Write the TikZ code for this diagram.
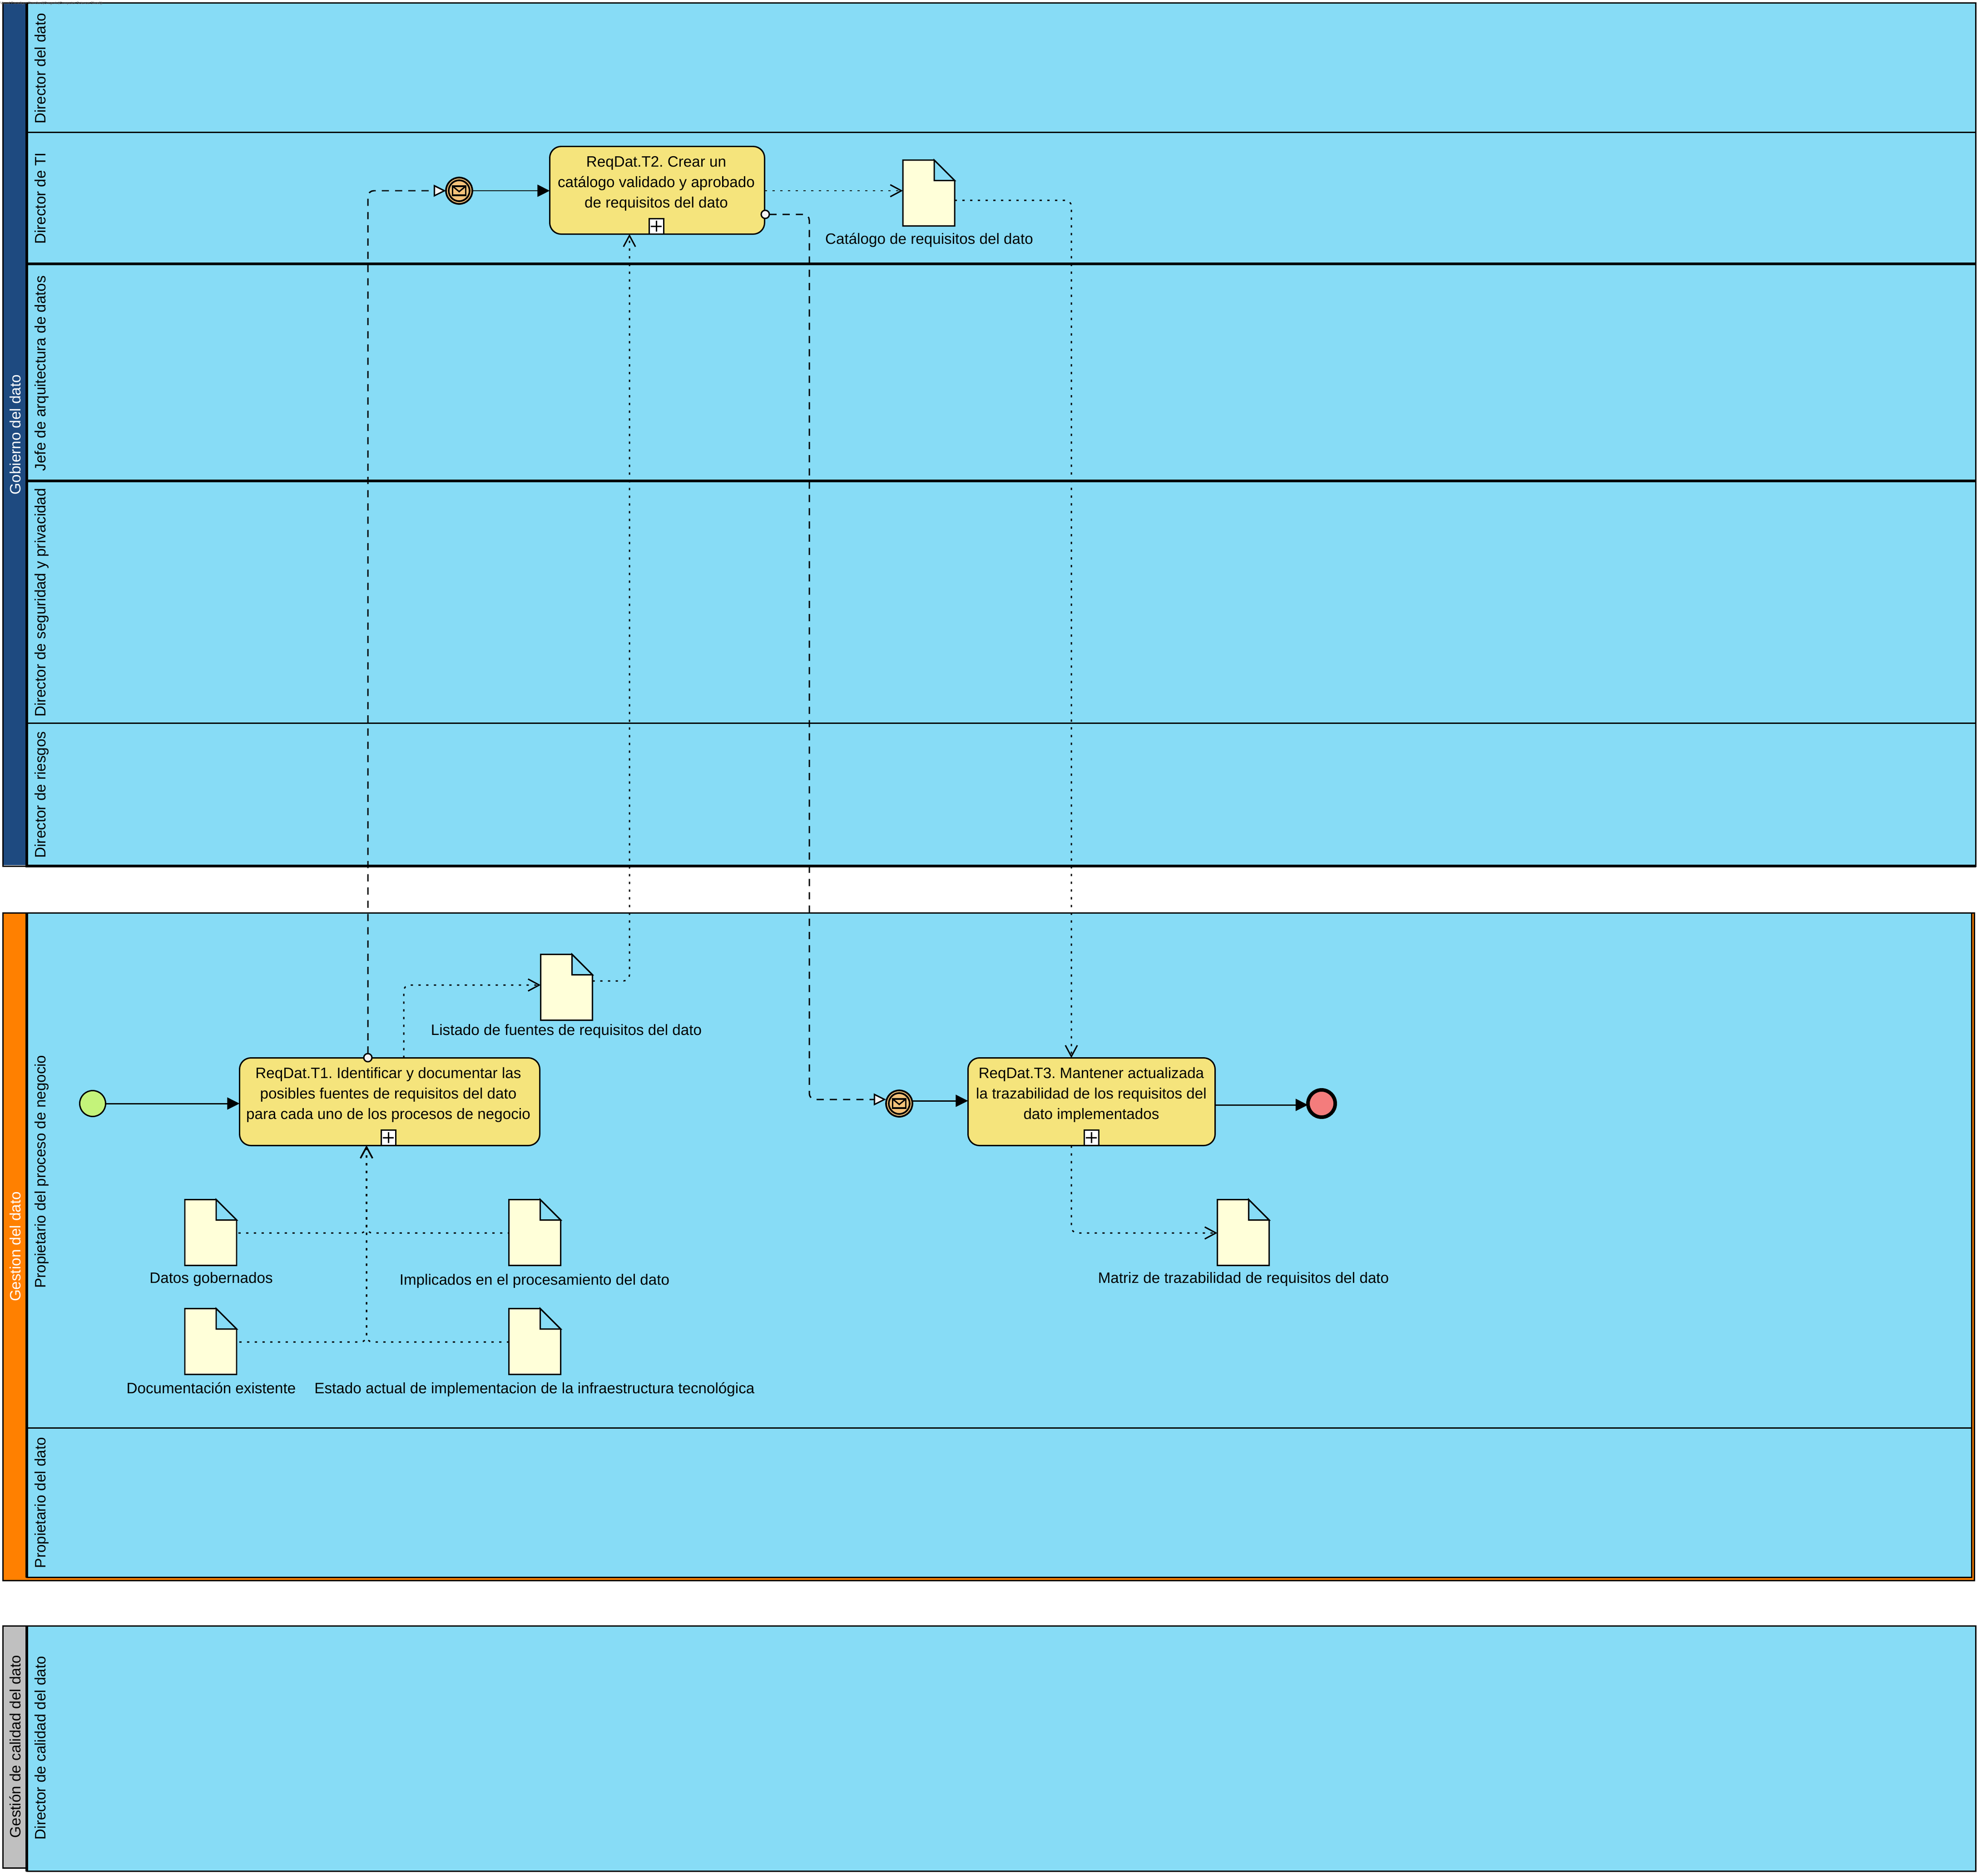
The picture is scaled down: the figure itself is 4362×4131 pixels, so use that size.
\documentclass[tikz,border=0pt]{standalone}
\usepackage{fontspec}
\setmainfont{Liberation Sans}
\usetikzlibrary{arrows.meta,calc,shapes.geometric}
\definecolor{lanec}{HTML}{87DCF6}
\definecolor{navyc}{HTML}{1E4A80}
\definecolor{orangec}{HTML}{FF8000}
\definecolor{greyc}{HTML}{C0C0C0}
\definecolor{taskc}{HTML}{F5E47C}
\definecolor{docc}{HTML}{FFFFD9}
\definecolor{evc}{HTML}{F5C27A}
\definecolor{startc}{HTML}{C4F37A}
\definecolor{endc}{HTML}{F47C7C}
\def\uu{0.02cm}
\frenchspacing
\tikzset{
  x=0.02cm,y=-0.02cm,
  thin3/.style={line width=1.7pt,draw=black},
  thick6/.style={line width=3.4pt,draw=black},
  txt/.style={font=\fontsize{18.9}{25.6}\selectfont\frenchspacing,inner sep=0pt,outer sep=0pt},
  vlabel/.style={txt,rotate=90,anchor=base},
  wlabel/.style={vlabel,text=white},
  dlabel/.style={txt,anchor=base},
  tasktext/.style={txt,align=center},
  taskbox/.style={draw=black,line width=1.7pt,fill=taskc,rounded corners=0.5cm,minimum height=193*\uu,inner sep=0pt,outer sep=0pt},
  markbox/.style={draw=black,line width=1.7pt,fill=white,minimum width=32*\uu,minimum height=34*\uu,inner sep=0pt,outer sep=0pt},
  docanchor/.style={minimum width=114*\uu,minimum height=145*\uu,inner sep=0pt,outer sep=0pt},
  docline/.style={line width=1.7pt,draw=black,fill=docc,line join=miter},
  evmsg/.style={circle,draw=black,line width=2.1pt,fill=evc,minimum size=58*\uu,inner sep=0pt,outer sep=0pt},
  evinner/.style={circle,draw=black,line width=2.1pt,fill=evc,minimum size=46*\uu,inner sep=0pt},
  evstart/.style={circle,draw=black,line width=1.7pt,fill=startc,minimum size=57*\uu,inner sep=0pt,outer sep=0pt},
  evend/.style={circle,draw=black,line width=4.5pt,fill=endc,minimum size=60*\uu,inner sep=0pt,outer sep=0pt},
  smallc/.style={circle,draw=black,line width=1.7pt,fill=white!96!black,minimum size=18*\uu,inner sep=0pt,outer sep=0pt},
  seqflow/.style={line width=1.7pt,-{Triangle[length=15.4pt,width=15pt]}},
  msgflow/.style={line width=1.7pt,dash pattern=on 9pt off 7.6pt,rounded corners=0.26cm,
    -{Triangle[length=15.5pt,width=15pt,line width=1.7pt,fill=white!96!black]}},
  dotflow/.style={line width=1.7pt,dash pattern=on 2.85pt off 6.83pt,rounded corners=0.26cm},
  assocout/.style={dotflow,-{Straight Barb[length=14pt,width=15pt,line width=1.7pt]}},
  assocrev/.style={dotflow,{Straight Barb[length=14pt,width=15pt,line width=1.7pt]}-},
}
\newcommand{\docnode}[3]{%
  \node[docanchor] (#1) at (#2,#3) {};
  \draw[docline] (#1.south west) -- (#1.north west) -- ($(#1.north east)+(-45,0)$) -- ($(#1.north east)+(0,45)$) -- (#1.south east) -- cycle;
  \fill[lanec] ($(#1.north east)+(-45,0)$) -- ($(#1.north east)+(0,45)$) -- ($(#1.north east)+(-45,45)$) -- cycle;
  \draw[line width=1.7pt,line join=miter] ($(#1.north east)+(-45,0)$) -- ($(#1.north east)+(-45,45)$) -- ($(#1.north east)+(0,45)$) -- cycle;
}
\newcommand{\markernode}[3]{%
  \node[markbox] (#1) at (#2,#3) {};
  \draw[line width=1.7pt] ($(#1.center)+(-12,0)$) -- ($(#1.center)+(12,0)$);
  \draw[line width=1.7pt] ($(#1.center)+(0,-12)$) -- ($(#1.center)+(0,12)$);
}
\newcommand{\eventnode}[3]{%
  \node[evmsg] (#1) at (#2,#3) {};
  \node[evinner] (#1i) at (#2,#3) {};
  \begin{scope}[shift={(#1.center)}]
    \draw[line width=2pt,line join=miter] (-14.5,-10) rectangle (14.5,10);
    \draw[line width=1.7pt] (-14.5,-10) -- (0,2) -- (14.5,-10);
  \end{scope}
}
\begin{document}
\begin{tikzpicture}
\useasboundingbox (0,0) rectangle (4362,4131);
\fill[white] (0,0) rectangle (4362,4131);

% Pool 1
\fill[lanec] (62,8) rectangle (4350,1905);
\fill[navyc] (8,8) rectangle (56,1905);
\draw[thin3] (6.5,6.5) rectangle (4350.5,1907);
\draw[thick6] (59,6.5) -- (59,1907);
\draw[thin3] (62,291.5) -- (4350,291.5);
\draw[thick6] (62,581) -- (4350,581);
\draw[thick6] (62,1059) -- (4350,1059);
\draw[thin3] (62,1592) -- (4350,1592);
\draw[thick6] (56,1907) -- (4351,1907);
\node[wlabel] (p1) at (45,957) {Gobierno del dato};
\node[vlabel] (l11) at (100,151) {Director del dato};
\node[vlabel] (l12) at (100,437) {Director de TI};
\node[vlabel] (l13) at (100,822) {Jefe de arquitectura de datos};
\node[vlabel] (l14) at (100,1327) {Director de seguridad y privacidad};
\node[vlabel] (l15) at (100,1750) {Director de riesgos};

% Pool 2
\draw[thin3,fill=orangec] (6.5,2010.5) rectangle (4347.5,3480);
\fill[lanec] (59,2012) rectangle (4341.5,3473);
\draw[thin3] (59,2010.5) rectangle (4341.5,3473);
\draw[thick6] (59,2010.5) -- (59,3474);
\draw[thin3] (62,3144) -- (4341,3144);
\node[wlabel] (p2) at (45,2745) {Gestion del dato};
\node[vlabel] (l21) at (100,2580) {Propietario del proceso de negocio};
\node[vlabel] (l22) at (100,3309) {Propietario del dato};

% Pool 3
\draw[thin3,fill=greyc] (6.5,3580) rectangle (59,4113);
\draw[thin3,fill=lanec] (59,3580) rectangle (4350.5,4120);
\draw[thick6] (59,3580) -- (59,4121);
\node[wlabel,text=black] (p3) at (45,3846) {Gestión de calidad del dato};
\node[vlabel] (l31) at (100,3849) {Director de calidad del dato};

% Documents
\docnode{d1}{1247.5}{2174}
\docnode{d2}{2045}{425}
\docnode{d3}{464}{2714}
\docnode{d4}{1177.5}{2714}
\docnode{d5}{464}{2954}
\docnode{d6}{1177.5}{2954}
\docnode{d7}{2737.5}{2714}
\node[dlabel] (dl1) at (1247,2279) {Listado de fuentes de requisitos del dato};
\node[dlabel] (dl2) at (2046,537) {Catálogo de requisitos del dato};
\node[dlabel] (dl3) at (465,2825) {Datos gobernados};
\node[dlabel] (dl4) at (1177,2829) {Implicados en el procesamiento del dato};
\node[dlabel] (dl5) at (465,3068) {Documentación existente};
\node[dlabel] (dl6) at (1177,3068) {Estado actual de implementacion de la infraestructura tecnológica};
\node[dlabel] (dl7) at (2738,2825) {Matriz de trazabilidad de requisitos del dato};

% Tasks
\node[taskbox,minimum width=661*\uu] (t1) at (858,2426) {};
\node[taskbox,minimum width=473*\uu] (t2) at (1447,419) {};
\node[taskbox,minimum width=544*\uu] (t3) at (2403.5,2426) {};
\node[tasktext] (t1x) at (855,2411) {ReqDat.T1. Identificar y documentar las\\posibles fuentes de requisitos del dato\\para cada uno de los procesos de negocio};
\node[tasktext] (t2x) at (1445,404) {ReqDat.T2. Crear un\\catálogo validado y aprobado\\de requisitos del dato};
\node[tasktext] (t3x) at (2403,2411) {ReqDat.T3. Mantener actualizada\\la trazabilidad de los requisitos del\\dato implementados};
\markernode{m1}{855}{2505}
\markernode{m2}{1445}{498}
\markernode{m3}{2403}{2505}

% Events
\node[evstart] (s1) at (204,2430) {};
\eventnode{e1}{1011}{420}
\eventnode{e2}{1980}{2430}
\node[evend] (x1) at (2910,2430) {};
\node[smallc] (c1) at (810,2329) {};
\node[smallc] (c2) at (1685,472) {};

% Sequence flows
\draw[seqflow] (s1.east) -- (t1.west |- s1.east);
\draw[seqflow] (e1.east) -- (t2.west |- e1.east);
\draw[seqflow] (e2.east |- 0,2424) -- (t3.west |- 0,2424);
\draw[seqflow] (t3.east |- 0,2433) -- (x1.west |- 0,2433);

% Message flows
\draw[msgflow] (c1.north) |- (e1.west);
\draw[msgflow] (c2.east) -| (1782,1000) |- (e2.west |- 0,2421);

% Associations
\draw[assocout] (t1.north -| 889,0) |- (d1.west |- 0,2169);
\draw[assocout] (d1.east |- 0,2160) -| (t2.south -| 1386,0);
\draw[assocout] (t2.east |- e1.east) -- (d2.west |- e1.east);
\draw[assocout] (d2.east |- 0,441) -| (t3.north -| 2359,0);
\draw[assocout] (t3.south -| 2359,0) |- (d7.west |- 0,2715);
\draw[assocrev] (t1.south -| 807,0) |- (d3.east |- 0,2715);
\draw[assocrev] (t1.south -| 807,0) |- (d4.west |- 0,2715);
\draw[assocrev] (t1.south -| 807,0) |- (d5.east |- 0,2955);
\draw[assocrev] (t1.south -| 807,0) |- (d6.west |- 0,2955);

\node[anchor=west,inner sep=0pt,text=black!55,font=\fontsize{4.6}{6}\selectfont] (wm) at (0,7) {Visual Paradigm Standard(Gregorio(Computer Science Shool))};
\end{tikzpicture}
\end{document}
